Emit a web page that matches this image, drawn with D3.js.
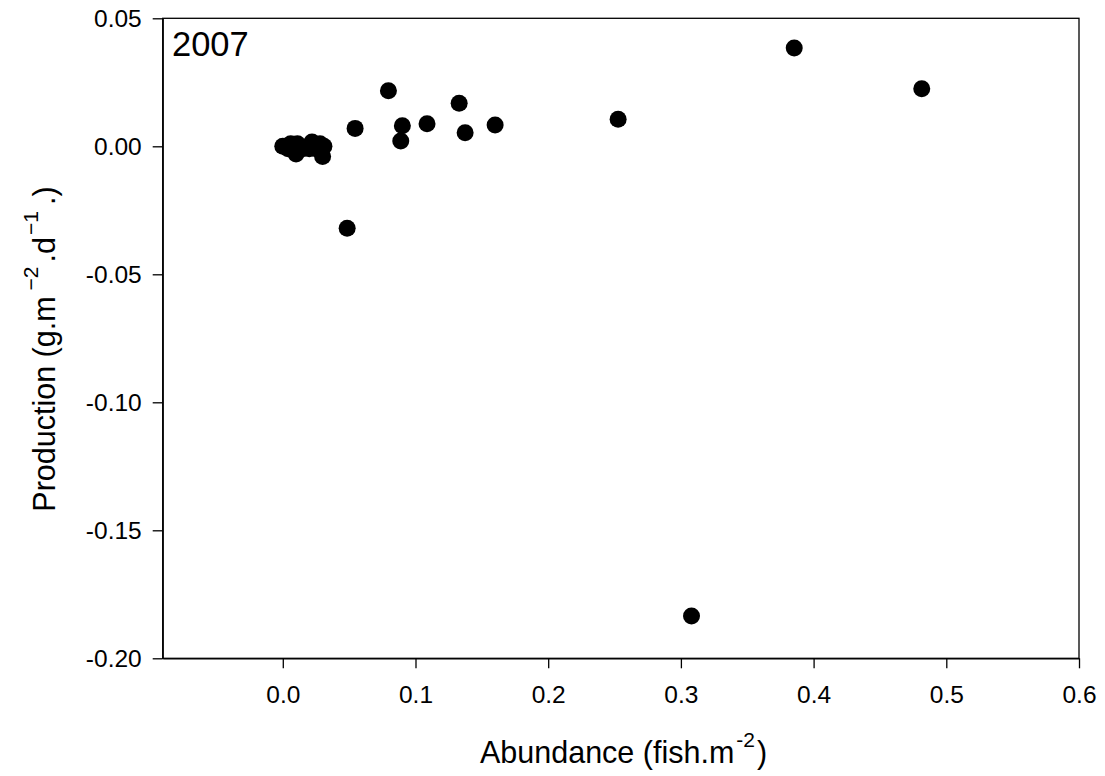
<!DOCTYPE html>
<html>
<head>
<meta charset="utf-8">
<script src="https://cdn.jsdelivr.net/npm/d3@7"></script>
<style>
  html, body { margin: 0; padding: 0; background: #fff; }
  svg { display: block; font-family: "Liberation Sans", Arial, sans-serif; }
</style>
</head>
<body>
<svg id="chart" width="1105" height="776"></svg>
<script>
// Abundance (fish.m^-2)
const abundance = [0.000, 0.002, 0.004, 0.006, 0.008, 0.010, 0.011, 0.015, 0.020, 0.022, 0.025, 0.028, 0.030, 0.031,
                   0.0485, 0.0545, 0.0796, 0.0889, 0.0901, 0.1087, 0.1329, 0.1374, 0.160, 0.2527, 0.308, 0.3854, 0.4815];
// Production (g.m^-2.d^-1)
const production = [0.000, 0.000, -0.001, 0.001, 0.000, -0.003, 0.001, -0.001, -0.001, 0.0017, -0.001, 0.001, -0.004, 0.000,
                    -0.0320, 0.0070, 0.0217, 0.0021, 0.0080, 0.0088, 0.0168, 0.0053, 0.0083, 0.01055, -0.1835, 0.0384, 0.0225];
const xTicks = [0.0, 0.1, 0.2, 0.3, 0.4, 0.5, 0.6];
const yTicks = [0.05, 0.00, -0.05, -0.10, -0.15, -0.20];
const panelLabel = "2007";

const svg = d3.select("#chart");
const margin = {left: 162.7, right: 1105 - 1079, top: 18.3, bottom: 776 - 658.3};
const W = 1105, H = 776;

const x = d3.scaleLinear().domain([-0.0905, 0.6]).range([margin.left, W - margin.right]);
const y = d3.scaleLinear().domain([-0.20, 0.05]).range([H - margin.bottom, margin.top]);

const loc = d3.formatLocale({decimal: ".", thousands: ",", grouping: [3], currency: ["", ""], minus: "-"});
const fx = loc.format(".1f"), fy = loc.format(".2f");

// frame (top & right)
svg.append("rect")
  .attr("x", x.range()[0]).attr("y", y.range()[1])
  .attr("width", x.range()[1] - x.range()[0]).attr("height", y.range()[0] - y.range()[1])
  .attr("fill", "none").attr("stroke", "#000").attr("stroke-width", 1.3);

const gx = svg.append("g").attr("transform", `translate(0,${y.range()[0]})`)
  .call(d3.axisBottom(x).tickValues(xTicks).tickFormat(fx).tickSizeInner(10).tickSizeOuter(0).tickPadding(17));
const gy = svg.append("g").attr("transform", `translate(${x.range()[0]},0)`)
  .call(d3.axisLeft(y).tickValues(yTicks).tickFormat(fy).tickSizeInner(10).tickSizeOuter(0).tickPadding(11));
[gx, gy].forEach(g => {
  g.select(".domain").attr("stroke", "#000").attr("stroke-width", 1.3);
  g.selectAll(".tick line").attr("stroke", "#000").attr("stroke-width", 1.3);
  g.selectAll(".tick text").attr("fill", "#000").style("font-size", "24.5px")
    .style("font-family", '"Liberation Sans", Arial, sans-serif');
});

// points
svg.append("g").selectAll("circle")
  .data(abundance.map((a, i) => [a, production[i]]))
  .join("circle")
  .attr("cx", d => x(d[0])).attr("cy", d => y(d[1]))
  .attr("r", 8.5).attr("fill", "#000");

// panel label
svg.append("text").attr("x", 172).attr("y", 56).style("font-size", "34.5px").text(panelLabel);

// x axis title
const xt = svg.append("text").attr("x", 480).attr("y", 763)
  .attr("text-anchor", "start").style("font-size", "30.5px");
xt.append("tspan").text("Abundance (fish.m");
xt.append("tspan").attr("dy", -16).attr("dx", 2).style("font-size", "21px").text("-2");
xt.append("tspan").attr("dy", 16).attr("dx", 2).text(")");

// y axis title
const yt = svg.append("text").attr("transform", `translate(55,511.7) rotate(-90)`)
  .attr("text-anchor", "start").style("font-size", "30.5px");
yt.append("tspan").text("Production (g.m");
yt.append("tspan").attr("dy", -17).attr("dx", 6).style("font-size", "21px").text("\u22122");
yt.append("tspan").attr("dy", 17).attr("dx", 4).text(".d");
yt.append("tspan").attr("dy", -17).attr("dx", 2).style("font-size", "21px").text("\u22121");
yt.append("tspan").attr("dy", 17).attr("dx", 6).text(".)");
</script>
</body>
</html>
